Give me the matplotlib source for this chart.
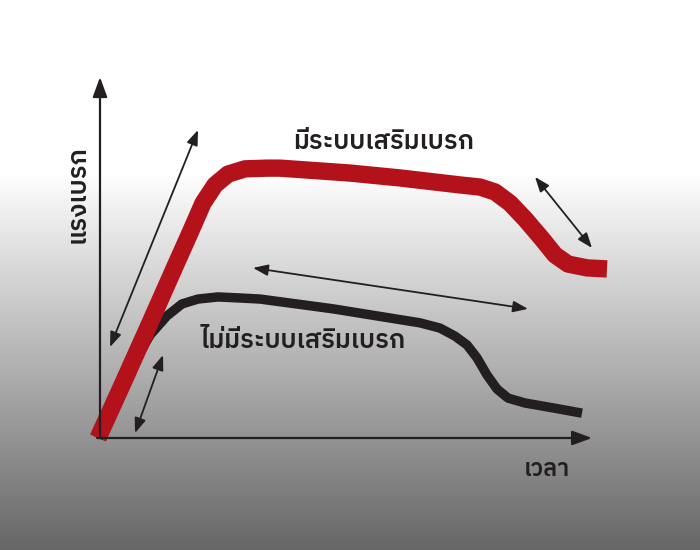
import matplotlib
matplotlib.use("Agg")
import matplotlib.pyplot as plt
import numpy as np

# brake force over time (arbitrary units)
t_with = [-0.4, 4.6, 10, 15.4, 18, 20.6, 23, 25.6, 29, 33.4, 36, 50, 60, 72, 76, 79, 82, 85, 88.4, 91, 93.6, 97.4, 101.4]
f_with = [0, 15.7, 32.9, 50.3, 58.6, 67.1, 72.3, 75.4, 76.9, 77.1, 77.1, 75.7, 74.3, 72.3, 71.7, 70.3, 67.1, 62.6, 56.9, 52.3, 49.7, 48.6, 48.3]

t_without = [-0.4, 4.6, 10, 13.4, 16.4, 19.6, 23.6, 28, 32, 46.6, 64, 68, 71, 73.4, 75.4, 77.4, 79.4, 81.6, 85, 90.6, 96.4]
f_without = [0, 15.7, 29.4, 34.9, 38.3, 39.7, 40.3, 40, 39.7, 36.9, 32.9, 31.4, 29.1, 26.6, 22.9, 18, 14, 11.4, 10, 8.6, 7.1]

# double-headed arrows: (start, end)
arrows = [((2, 26), (19.6, 88)),
          ((7, 1.4), (12.6, 23.7)),
          ((30.6, 48.6), (85.6, 36.9)),
          ((87, 74.6), (98.4, 54.3))]

label_with = "มีระบบเสริมเบรก"
label_without = "ไม่มีระบบเสริมเบรก"
xlabel = "เวลา"
ylabel = "แรงเบรก"

thai = ['IBM Plex Sans Thai', 'Noto Sans Thai', 'DejaVu Sans']
ink = '#231f20'
red = '#b3121b'

fig = plt.figure(figsize=(7, 5.5), dpi=100)

# background: white top, fading to grey at the bottom
bg = fig.add_axes([0, 0, 1, 1])
rows = np.linspace(0, 1, 550)
shade = np.where(rows < 0.31, 1.0, 1.0 - (rows - 0.31) / 0.69 * 0.6)
bg.imshow(shade[:, None], cmap='gray', vmin=0, vmax=1, aspect='auto', extent=[0, 1, 1, 0])
bg.set_axis_off()

ax = fig.add_axes([0, 0, 1, 1])
ax.set_facecolor('none')
ax.set_xlim(-20, 120)
ax.set_ylim(-32, 125.14)
ax.set_axis_off()

# axes with arrowheads
ax.annotate('', xy=(98.4, 0), xytext=(-0.6, 0),
            arrowprops=dict(arrowstyle='-|>,head_length=0.6,head_width=0.22', mutation_scale=20,
                            color=ink, lw=1.6, shrinkA=0, shrinkB=0))
ax.annotate('', xy=(0, 103.1), xytext=(0, 0),
            arrowprops=dict(arrowstyle='-|>,head_length=0.6,head_width=0.22', mutation_scale=20,
                            color=ink, lw=1.6, shrinkA=0, shrinkB=0))

ax.plot(t_without, f_without, color=ink, lw=6.8, solid_capstyle='butt', solid_joinstyle='round')
ax.plot(t_with, f_with, color=red, lw=12.5, solid_capstyle='butt', solid_joinstyle='round')

for a, b in arrows:
    ax.annotate('', xy=b, xytext=a,
                arrowprops=dict(arrowstyle='<|-|>,head_length=0.45,head_width=0.17', mutation_scale=20,
                                color=ink, lw=1.3, shrinkA=0, shrinkB=0))

ax.text(56.8, 84.6, label_with, family=thai, fontsize=18.5, weight='semibold', color=ink,
        ha='center', va='center')
ax.text(40.6, 27.7, label_without, family=thai, fontsize=18.5, weight='semibold', color=ink,
        ha='center', va='center')
ax.text(89.4, -9, xlabel, family=thai, fontsize=17, weight='semibold', color=ink,
        ha='center', va='center')
ax.text(-4.4, 69.7, ylabel, family=thai, fontsize=18.5, weight='semibold', color=ink,
        ha='center', va='center', rotation=90)

fig.savefig('out.png', dpi=100)
